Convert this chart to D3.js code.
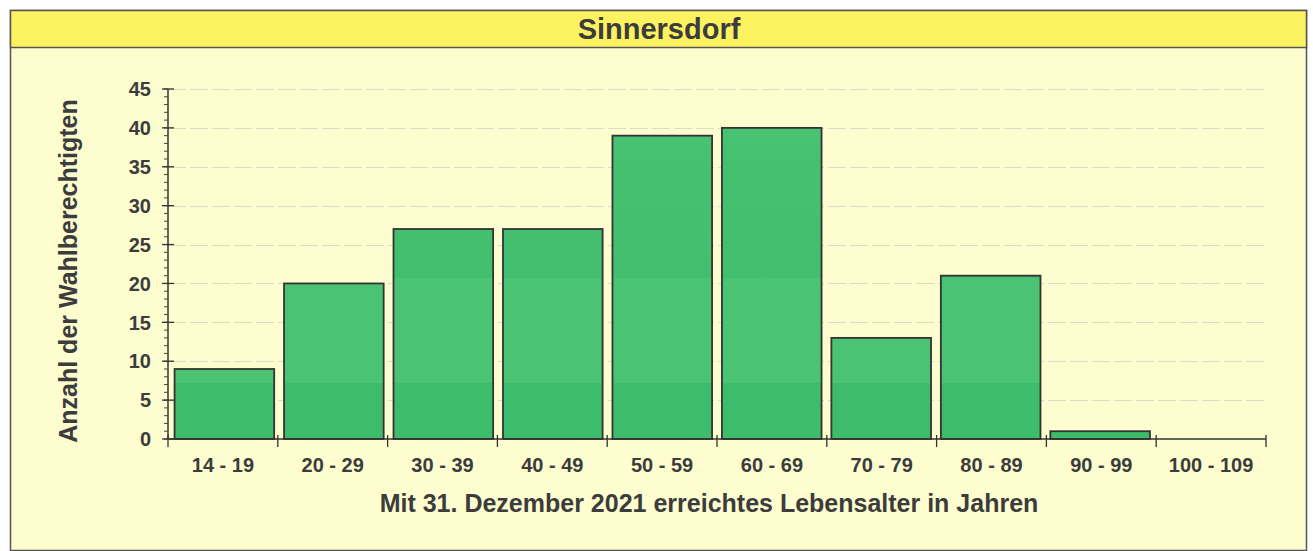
<!DOCTYPE html>
<html>
<head>
<meta charset="utf-8">
<script src="https://cdn.jsdelivr.net/npm/d3@7"></script>
<style>
  body { margin: 0; background: #fff; }
  svg { display: block; font-family: Arial, "Liberation Sans", sans-serif; }
</style>
</head>
<body>
<div id="chart"></div>
<script>
// age groups and number of voters
const categories = ["14 - 19", "20 - 29", "30 - 39", "40 - 49", "50 - 59", "60 - 69", "70 - 79", "80 - 89", "90 - 99", "100 - 109"];
const values = [9, 20, 27, 27, 39, 40, 13, 21, 1, 0];
const yTicks = [0, 5, 10, 15, 20, 25, 30, 35, 40, 45];

const title = "Sinnersdorf";
const xTitle = "Mit 31. Dezember 2021 erreichtes Lebensalter in Jahren";
const yTitle = "Anzahl der Wahlberechtigten";

const width = 1313, height = 551;
const margin = {top: 89, right: 47, bottom: 112, left: 168};
const textColor = "#3c3c3c";

const svg = d3.select("#chart").append("svg")
    .attr("width", width)
    .attr("height", height);

// frame + title band
svg.append("rect")
    .attr("x", 10.5).attr("y", 10.5)
    .attr("width", 1296).attr("height", 540)
    .attr("fill", "#fdfdcf")
    .attr("stroke", "#555").attr("stroke-width", 1.5);

svg.append("rect")
    .attr("x", 10.5).attr("y", 10.5)
    .attr("width", 1296).attr("height", 37)
    .attr("fill", "#fdf360")
    .attr("stroke", "#555").attr("stroke-width", 1.5);

svg.append("text")
    .attr("x", 659).attr("y", 39)
    .attr("text-anchor", "middle")
    .attr("font-size", 29).attr("font-weight", "bold")
    .attr("fill", textColor)
    .text(title);

const x = d3.scaleBand()
    .domain(categories)
    .range([margin.left, width - margin.right])
    .paddingInner(0.09)
    .paddingOuter(0.06);

const xBand = d3.scaleBand()
    .domain(categories)
    .range([margin.left, width - margin.right]);

const y = d3.scaleLinear()
    .domain([0, 45])
    .range([height - margin.bottom, margin.top]);

// gridlines
svg.append("g")
    .selectAll("line")
    .data(yTicks.slice(1))
    .join("line")
    .attr("x1", margin.left).attr("x2", width - margin.right)
    .attr("y1", d => Math.round(y(d)) + 0.5).attr("y2", d => Math.round(y(d)) + 0.5)
    .attr("stroke", "#dcdcc4")
    .attr("stroke-dasharray", "18,4");

// bars
const grad = svg.append("defs").append("linearGradient")
    .attr("id", "barfill")
    .attr("gradientUnits", "userSpaceOnUse")
    .attr("x1", 0).attr("x2", 0)
    .attr("y1", y(0)).attr("y2", y(45));
[[0, "#3dbc6b"], [0.16, "#3dbc6b"], [0.16, "#4ac473"], [0.46, "#4ac473"], [0.46, "#42bf6e"], [0.78, "#44c06f"], [1, "#4ec776"]]
    .forEach(([o, c]) => grad.append("stop").attr("offset", o).attr("stop-color", c));

svg.append("g")
    .selectAll("rect")
    .data(values.map((v, i) => ({cat: categories[i], v})).filter(d => d.v > 0))
    .join("rect")
    .attr("x", d => x(d.cat))
    .attr("y", d => y(d.v))
    .attr("width", x.bandwidth())
    .attr("height", d => y(0) - y(d.v))
    .attr("fill", "url(#barfill)")
    .attr("stroke", "#333")
    .attr("stroke-width", 1.8);

// y axis
const yAxis = svg.append("g")
    .attr("transform", `translate(${margin.left},0)`);
yAxis.append("line")
    .attr("y1", y(45)).attr("y2", y(0))
    .attr("stroke", "#333").attr("stroke-width", 1.5);
yAxis.selectAll(".minor")
    .data(d3.range(0, 46))
    .join("line")
    .attr("x1", -4).attr("x2", 0)
    .attr("y1", d => y(d)).attr("y2", d => y(d))
    .attr("stroke", "#444");
yAxis.selectAll(".major")
    .data(yTicks)
    .join("line")
    .attr("x1", -6).attr("x2", 6)
    .attr("y1", d => y(d)).attr("y2", d => y(d))
    .attr("stroke", "#333").attr("stroke-width", 1.3);
yAxis.selectAll("text")
    .data(yTicks)
    .join("text")
    .attr("x", -17)
    .attr("y", d => y(d))
    .attr("dy", "0.36em")
    .attr("text-anchor", "end")
    .attr("font-size", 20).attr("font-weight", "bold")
    .attr("fill", textColor)
    .text(d => d);

// x axis
const xAxis = svg.append("g")
    .attr("transform", `translate(0,${y(0)})`);
xAxis.append("line")
    .attr("x1", margin.left).attr("x2", width - margin.right)
    .attr("stroke", "#333").attr("stroke-width", 1.5);
xAxis.selectAll(".tick")
    .data(categories.map(c => xBand(c)).concat([width - margin.right]))
    .join("line")
    .attr("x1", d => d).attr("x2", d => d)
    .attr("y1", -4).attr("y2", 8)
    .attr("stroke", "#333").attr("stroke-width", 1.3);
xAxis.selectAll("text")
    .data(categories)
    .join("text")
    .attr("x", d => xBand(d) + xBand.bandwidth() / 2)
    .attr("y", 33)
    .attr("text-anchor", "middle")
    .attr("font-size", 20).attr("font-weight", "bold")
    .attr("fill", textColor)
    .text(d => d);

// axis titles
svg.append("text")
    .attr("x", 709).attr("y", 512)
    .attr("text-anchor", "middle")
    .attr("font-size", 25).attr("font-weight", "bold")
    .attr("fill", textColor)
    .text(xTitle);

svg.append("text")
    .attr("transform", `translate(77,271) rotate(-90)`)
    .attr("text-anchor", "middle")
    .attr("font-size", 25).attr("font-weight", "bold")
    .attr("fill", textColor)
    .text(yTitle);
</script>
</body>
</html>
